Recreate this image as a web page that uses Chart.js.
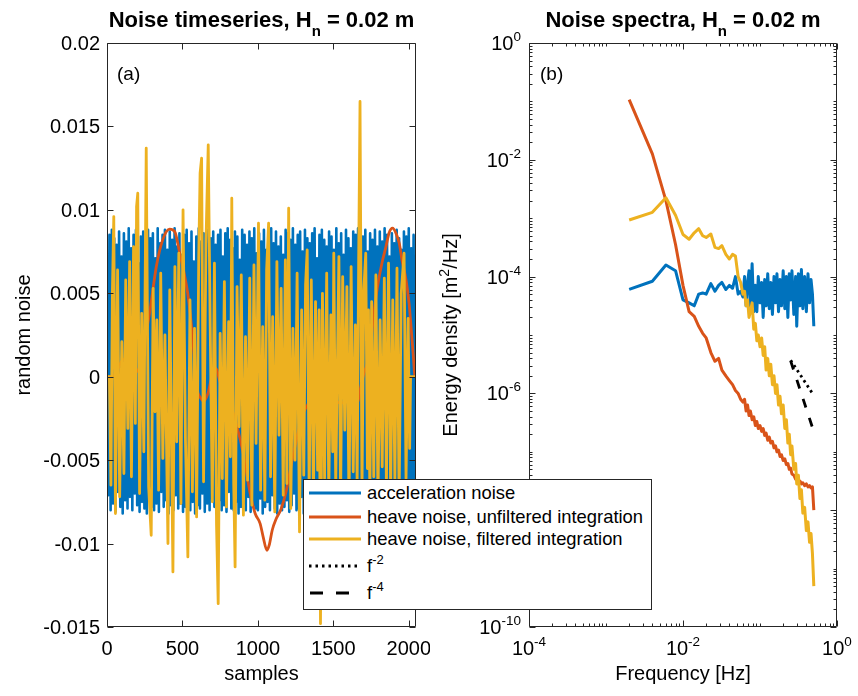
<!DOCTYPE html>
<html>
<head>
<meta charset="utf-8">
<script src="https://cdn.jsdelivr.net/npm/chart.js@4.4.1/dist/chart.umd.min.js"></script>
<style>
html,body{margin:0;padding:0;background:#fff;}
#wrap{position:relative;width:858px;height:696px;overflow:hidden;background:#fff;}
canvas{position:absolute;top:0;}
#c1{left:0;}
#c2{left:430px;}
#legend{position:absolute;left:303px;top:479px;width:347px;height:129px;background:#fff;border:1px solid #262626;font:18.4px "Liberation Sans",Arial,sans-serif;color:#000;z-index:5;}
#legend .row{position:absolute;left:0;height:24px;width:340px;}
#legend svg{position:absolute;left:5px;top:0;}
#legend span{position:absolute;left:63px;top:0;line-height:24px;white-space:nowrap;}
#legend sup{font-size:13px;position:relative;top:-8px;vertical-align:baseline;}
</style>
</head>
<body>
<div id="wrap">
<canvas id="c1" width="430" height="696"></canvas>
<canvas id="c2" width="428" height="696"></canvas>
<div id="legend">
  <div class="row" style="top:1px"><svg width="52" height="24"><line x1="0" y1="12" x2="52" y2="12" stroke="#0072BD" stroke-width="2.8"/></svg><span>acceleration noise</span></div>
  <div class="row" style="top:25px"><svg width="52" height="24"><line x1="0" y1="12" x2="52" y2="12" stroke="#D95319" stroke-width="2.8"/></svg><span>heave noise, unfiltered integration</span></div>
  <div class="row" style="top:47px"><svg width="52" height="24"><line x1="0" y1="12" x2="52" y2="12" stroke="#EDB120" stroke-width="2.8"/></svg><span>heave noise, filtered integration</span></div>
  <div class="row" style="top:74px"><svg width="52" height="24"><line x1="0" y1="12" x2="52" y2="12" stroke="#000" stroke-width="2.8" stroke-dasharray="2.5 4"/></svg><span>f<sup>-2</sup></span></div>
  <div class="row" style="top:101px"><svg width="52" height="24"><line x1="1" y1="12" x2="52" y2="12" stroke="#000" stroke-width="2.8" stroke-dasharray="13 13"/></svg><span>f<sup>-4</sup></span></div>
</div>
</div>
<script>
// ================= DATA =================
// Panel (a): time series
const tsTicksX = [0, 500, 1000, 1500, 2000];
const tsTicksY = [-0.015, -0.01, -0.005, 0, 0.005, 0.01, 0.015, 0.02];
const tsTickLabelsY = ['-0.015', '-0.01', '-0.005', '0', '0.005', '0.01', '0.015', '0.02'];

// acceleration noise, one value every 8 samples
const accelSampleStep = 8;
const accelNoise = [
0.0062,-0.0071,0.0085,-0.0080,0.0088,-0.0076,0.0083,-0.0081,0.0079,-0.0069,0.0087,-0.0078,0.0072,-0.0082,0.0086,-0.0074,
0.0081,-0.0079,0.0089,-0.0072,0.0077,-0.0080,0.0085,-0.0070,0.0088,-0.0077,0.0068,-0.0081,0.0084,-0.0075,0.0087,-0.0079,
0.0074,-0.0082,0.0088,-0.0073,0.0083,-0.0078,0.0086,-0.0080,0.0071,-0.0076,0.0089,-0.0081,0.0080,-0.0069,0.0085,-0.0078,
0.0088,-0.0074,0.0076,-0.0082,0.0087,-0.0077,0.0082,-0.0080,0.0089,-0.0071,0.0078,-0.0079,0.0086,-0.0076,0.0073,-0.0081,
0.0085,-0.0078,0.0088,-0.0072,0.0080,-0.0080,0.0087,-0.0075,0.0069,-0.0082,0.0084,-0.0077,0.0089,-0.0079,0.0081,-0.0070,
0.0086,-0.0081,0.0075,-0.0076,0.0088,-0.0080,0.0083,-0.0073,0.0087,-0.0078,0.0079,-0.0082,0.0085,-0.0074,0.0088,-0.0080,
0.0072,-0.0077,0.0086,-0.0081,0.0089,-0.0069,0.0082,-0.0079,0.0077,-0.0080,0.0087,-0.0075,0.0084,-0.0082,0.0070,-0.0078,
0.0088,-0.0076,0.0085,-0.0080,0.0079,-0.0072,0.0087,-0.0081,0.0083,-0.0077,0.0089,-0.0079,0.0074,-0.0080,0.0086,-0.0073,
0.0081,-0.0082,0.0088,-0.0078,0.0076,-0.0075,0.0085,-0.0080,0.0089,-0.0071,0.0080,-0.0079,0.0087,-0.0082,0.0078,-0.0076,
0.0084,-0.0080,0.0073,-0.0078,0.0088,-0.0074,0.0086,-0.0081,0.0082,-0.0077,0.0089,-0.0070,0.0079,-0.0080,0.0085,-0.0079,
0.0087,-0.0072,0.0075,-0.0082,0.0088,-0.0078,0.0083,-0.0076,0.0080,-0.0080,0.0086,-0.0074,0.0089,-0.0081,0.0071,-0.0077,
0.0085,-0.0079,0.0088,-0.0073,0.0082,-0.0080,0.0078,-0.0082,0.0087,-0.0076,0.0084,-0.0078,0.0076,-0.0071,0.0089,-0.0080,
0.0080,-0.0077,0.0086,-0.0081,0.0073,-0.0075,0.0088,-0.0079,0.0083,-0.0082,0.0077,-0.0074,0.0087,-0.0080,0.0085,-0.0078,
0.0089,-0.0076,0.0079,-0.0081,0.0084,-0.0072,0.0088,-0.0079,0.0075,-0.0080,0.0086,-0.0077,0.0082,-0.0082,0.0088,-0.0075,
0.0078,-0.0080,0.0087,-0.0078,0.0081,-0.0074,0.0089,-0.0081,0.0085,-0.0076,0.0072,-0.0079,0.0086,-0.0082,0.0080,-0.0077,
0.0088,-0.0073,0.0083,-0.0080,0.0076,-0.0078,0.0087,-0.0081,0.0084,-0.0075,0.0089,-0.0079,0.0077,-0.0080,0.0085,-0.0072,
0.0064];

// heave noise, unfiltered integration
const unfiltSamples = [0,35,69,95,129,162,195,222,249,282,327,369,415,449,482,509,535,569,595,622,
  642,669,695,722,749,782,822,862,902,949,982,1015,1035,1060,1075,1095,1122,1155,1189,1227,
  1255,1295,1335,1369,1389,1415,1442,1469,1502,1549,1595,1635,1662,1682,1704,1727,1749,1769,1793,1822,
  1849,1869,1893,1915,1937,1955,1982,2002,2015,2029,2042,2047];
const unfiltNoise = [0,0,0.0004,0.0009,0.0011,0.0009,0.0003,0.0008,0.0022,0.0038,
  0.0066,0.0082,0.00884,0.0087,0.0074,0.0063,0.0050,0.0022,-0.0006,-0.0013,
  -0.00146,-0.0010,0.0000,0.0005,-0.0003,-0.0009,-0.00176,-0.0030,-0.00456,-0.0070,
  -0.0082,-0.0088,-0.0096,-0.0104,-0.0101,-0.0092,-0.0085,-0.0079,-0.0068,-0.0050,
  -0.0038,-0.0023,-0.0016,-0.0008,0.0001,0.00024,-0.0004,-0.0010,-0.00146,-0.00156,
  -0.0015,-0.00156,-0.0015,-0.0006,0.00024,0.00084,0.0022,0.0038,0.0054,0.0068,
  0.0078,0.0086,0.0089,0.0086,0.0080,0.0070,0.0058,0.0044,0.0030,0.0014,0,0];

// heave noise, filtered integration
const filtSamples = [0,16,26,36,45,56,70,84,98,112,124,138,150,162,176,188,196,204,216,230,
  244,260,276,293,306,318,330,342,356,370,384,404,416,437,450,462,476,490,504,520,
  536,550,566,580,594,608,617,627,640,656,671,684,698,712,726,737,750,764,778,792,
  806,818,827,840,849,862,876,890,904,918,932,946,960,974,988,1004,1018,1032,1046,1058,
  1071,1084,1098,1112,1126,1140,1154,1168,1182,1192,1204,1218,1232,1246,1260,1276,1290,1304,1316,1327,
  1340,1354,1368,1382,1396,1406,1415,1428,1442,1456,1470,1484,1496,1503,1516,1537,1548,1562,1576,1590,
  1604,1618,1632,1646,1658,1668,1677,1690,1702,1715,1726,1733,1742,1754,1768,1782,1796,1810,1824,1838,
  1852,1866,1880,1894,1908,1922,1936,1950,1969,1982,1996,2006,2012,2047];
const filtNoise = [0,0,-0.0065,0.0052,0.0096,-0.0082,0.0064,-0.0072,0.0021,-0.0058,0.0058,-0.0031,0.0069,-0.0060,0.0078,-0.0028,0.0102,0.0110,-0.0070,0.0038,
  -0.0045,0.0137,-0.0066,-0.0095,0.0053,-0.0021,0.0034,-0.0068,0.0062,-0.0049,0.0025,-0.0100,0.0052,-0.0117,0.0066,-0.0039,0.0074,-0.0076,0.0100,-0.0038,
  -0.0108,0.0046,-0.0069,0.0029,-0.0084,0.0072,0.0122,0.0131,-0.0063,0.0081,0.0139,0.0030,-0.0075,0.0068,-0.0089,-0.0136,0.0026,-0.0061,0.0057,-0.0078,
  0.0033,-0.0048,0.0107,-0.0065,-0.0114,0.0054,-0.0030,0.0061,-0.0083,0.0024,-0.0062,0.0059,-0.0077,0.0067,-0.0040,0.0092,-0.0068,0.0030,-0.0074,0.0064,
  0.0092,-0.0060,0.0036,-0.0081,0.0069,-0.0035,0.0053,-0.0071,0.0070,-0.0064,0.0101,-0.0079,0.0029,-0.0050,0.0062,-0.0093,0.0040,-0.0059,0.0055,0.0076,
  -0.0069,0.0058,-0.0073,0.0045,-0.0056,0.0040,-0.0148,0.0050,-0.0061,0.0062,-0.0070,0.0037,-0.0045,0.0074,-0.0065,0.0072,-0.0076,0.0060,-0.0032,0.0054,
  -0.0078,0.0066,-0.0057,0.0031,-0.0064,0.0070,0.0165,-0.0068,0.0052,0.0074,-0.0055,0.0040,-0.0072,0.0045,-0.0060,0.0061,-0.0075,0.0034,-0.0054,0.0059,
  -0.0066,0.0068,-0.0070,0.0046,-0.0063,0.0065,-0.0074,0.0050,0.0074,-0.0061,0.0035,-0.0043,0,0];

// Panel (b): spectra
const freqHz = [0.002,0.004,0.006,0.008,0.010,0.012,0.014,0.016,0.018,0.020,
  0.023,0.026,0.029,0.032,0.036,0.040,0.044,0.048,0.052,0.056,
  0.060,0.063,0.066,0.069,0.072,0.075,0.079,0.083,0.087,0.091,
  0.095,0.100,0.105,0.110,0.115,0.120,0.126,0.132,0.138,0.145,
  0.152,0.159,0.166,0.174,0.182,0.190,0.200,0.210,0.220,0.230,
  0.240,0.250,0.260,0.275,0.290,0.300,0.315,0.330,0.345,0.360,
  0.380,0.400,0.420,0.440,0.460,0.480,0.500];
const specAccel = [6.03e-5,8.32e-5,1.58e-4,1.26e-4,3.98e-5,3.55e-5,3.16e-5,5.01e-5,5.25e-5,5.01e-5,
  7.59e-5,5.62e-5,7.08e-5,7.94e-5,6.03e-5,7.08e-5,6.31e-5,1.0e-4,5.01e-5,5.62e-5,
  4.47e-5,1.0e-4,3.16e-5,7.94e-5,1.26e-4,2.82e-5,1.66e-4,2.51e-5,7.08e-5,2.51e-5,
  1.0e-4,3.55e-5,7.94e-5,2.0e-5,8.91e-5,3.16e-5,1.12e-4,2.82e-5,7.94e-5,2.24e-5,
  1.0e-4,3.55e-5,1.12e-4,2.51e-5,8.91e-5,3.16e-5,1.26e-4,2.82e-5,1.0e-4,2.0e-5,
  1.12e-4,3.98e-5,1.26e-4,2.24e-5,1.0e-4,1.41e-5,1.12e-4,3.16e-5,1.32e-4,2.82e-5,
  1.0e-4,2.51e-5,1.12e-4,3.55e-5,8.91e-5,5.01e-5,1.41e-5];
const specUnfilt = [1.07e-1,1.26e-2,2.0e-3,3.55e-4,7.08e-5,2.51e-5,2.09e-5,1.41e-5,1.07e-5,8.91e-6,
  5.01e-6,3.55e-6,3.98e-6,2.51e-6,2.0e-6,1.66e-6,1.41e-6,1.12e-6,1.0e-6,7.94e-7,
  7.08e-7,7.94e-7,5.01e-7,6.31e-7,4.17e-7,5.01e-7,3.55e-7,3.98e-7,2.82e-7,3.31e-7,
  2.51e-7,2.82e-7,2.24e-7,2.51e-7,1.91e-7,2.09e-7,1.58e-7,1.78e-7,1.41e-7,1.51e-7,
  1.17e-7,1.26e-7,1.0e-7,1.07e-7,8.32e-8,8.91e-8,7.08e-8,7.59e-8,6.03e-8,6.31e-8,
  5.01e-8,5.25e-8,4.17e-8,3.98e-8,3.39e-8,3.55e-8,3.02e-8,3.16e-8,2.82e-8,2.95e-8,
  2.63e-8,2.82e-8,2.51e-8,2.63e-8,2.40e-8,2.51e-8,1.0e-8];
const specFilt = [9.33e-4,1.26e-3,2.24e-3,1.12e-3,5.25e-4,4.37e-4,5.62e-4,6.61e-4,5.01e-4,4.68e-4,
  5.37e-4,3.16e-4,3.02e-4,3.39e-4,2.40e-4,2.0e-4,2.40e-4,2.24e-4,1.0e-4,7.94e-5,
  5.01e-5,5.62e-5,3.16e-5,3.98e-5,2.0e-5,2.51e-5,3.55e-5,1.26e-5,1.58e-5,7.94e-6,
  1.0e-5,6.31e-6,8.91e-6,4.47e-6,6.31e-6,2.51e-6,3.98e-6,2.0e-6,3.16e-6,1.41e-6,
  2.0e-6,1.0e-6,1.41e-6,6.31e-7,8.91e-7,4.47e-7,6.31e-7,2.51e-7,3.55e-7,1.41e-7,
  2.0e-7,8.91e-8,1.26e-7,5.01e-8,6.31e-8,2.82e-8,3.98e-8,1.58e-8,2.24e-8,8.91e-9,
  1.12e-8,4.47e-9,6.31e-9,2.82e-9,3.98e-9,1.78e-9,5.01e-10];
const refFreq = [0.25, 0.48];
const refSlope2 = [3.7e-6, 1.0e-6];
const refSlope4 = [3.6e-6, 2.6e-7];
const specTickExpX = [-4, -2, 0];
const specTickExpY = [-10, -8, -6, -4, -2, 0];

// ================= STYLE / DRAWING =================
const FONT = '"Liberation Sans", Arial, sans-serif';
const AX = '#262626';
const C_BLUE = '#0072BD', C_RED = '#D95319', C_YEL = '#EDB120';
const TICK_FS = 20, EXP_FS = 13.5, LABEL_FS = 20;

function runs(ctx, parts, x, y, align) {
  let w = 0;
  for (const p of parts) { ctx.font = p.f; p.w = ctx.measureText(p.t).width; w += p.w; }
  let x0 = align === 'right' ? x - w : (align === 'center' ? x - w / 2 : x);
  ctx.textAlign = 'left'; ctx.textBaseline = 'alphabetic'; ctx.fillStyle = '#000';
  for (const p of parts) { ctx.font = p.f; ctx.fillText(p.t, x0, y + (p.dy || 0)); x0 += p.w; }
}
const nf = s => s + 'px ' + FONT;
const bf = s => 'bold ' + s + 'px ' + FONT;

function boxAndTicks(chart, xt, yt) {
  const ctx = chart.ctx, a = chart.chartArea, xs = chart.scales.x, ys = chart.scales.y;
  const L = Math.round(a.left) + 0.5, R = Math.round(a.right) - 0.5, T = Math.round(a.top) + 0.5, B = Math.round(a.bottom) - 0.5;
  ctx.save(); ctx.strokeStyle = AX; ctx.lineWidth = 1; ctx.beginPath();
  for (const t of xt) { const p = Math.round(xs.getPixelForValue(t.v)) + 0.5; ctx.moveTo(p, B); ctx.lineTo(p, B - t.len); ctx.moveTo(p, T); ctx.lineTo(p, T + t.len); }
  for (const t of yt) { const p = Math.round(ys.getPixelForValue(t.v)) + 0.5; ctx.moveTo(L, p); ctx.lineTo(L + t.len, p); ctx.moveTo(R, p); ctx.lineTo(R - t.len, p); }
  ctx.rect(L, T, R - L, B - T); ctx.stroke(); ctx.restore();
}

function logTicks(e0, e1, majors) {
  const out = [];
  for (let e = e0; e <= e1; e++) {
    out.push({ v: Math.pow(10, e), len: majors.includes(e) ? 6 : 3 });
    if (e < e1) for (let m = 2; m <= 9; m++) out.push({ v: m * Math.pow(10, e), len: 3 });
  }
  return out;
}

const baseOpts = (xAxis, yAxis, padRight, yWidth) => ({
  responsive: false, animation: false, events: [],
  layout: { padding: { left: 0, right: padRight, top: 43, bottom: 0 } },
  elements: { point: { radius: 0 }, line: { borderJoinStyle: 'round', borderCapStyle: 'butt' } },
  plugins: { legend: { display: false }, tooltip: { enabled: false } },
  scales: {
    x: Object.assign({ grid: { display: false }, border: { display: false }, ticks: { display: false }, afterFit(s) { s.height = 69; } }, xAxis),
    y: Object.assign({ grid: { display: false }, border: { display: false }, ticks: { display: false }, afterFit(s) { s.width = yWidth; } }, yAxis)
  }
});

// ----- Panel (a) -----
new Chart(document.getElementById('c1'), {
  type: 'line',
  data: { datasets: [
    { label: 'heave noise, filtered integration', order: 0, borderColor: C_YEL, borderWidth: 2.8, tension: 0,
      data: filtSamples.map((s, i) => ({ x: s, y: filtNoise[i] })) },
    { label: 'heave noise, unfiltered integration', order: 1, borderColor: C_RED, borderWidth: 2.8, tension: 0.4, cubicInterpolationMode: 'monotone',
      data: unfiltSamples.map((s, i) => ({ x: s, y: unfiltNoise[i] })) },
    { label: 'acceleration noise', order: 2, borderColor: C_BLUE, borderWidth: 2.6, tension: 0,
      data: accelNoise.map((v, i) => ({ x: i * accelSampleStep, y: v })) }
  ]},
  options: baseOpts({ type: 'linear', min: 0, max: 2048 }, { type: 'linear', min: -0.015, max: 0.02 }, 14, 107),
  plugins: [{
    id: 'axesA',
    afterDraw(chart) {
      const ctx = chart.ctx, xs = chart.scales.x, ys = chart.scales.y, a = chart.chartArea;
      boxAndTicks(chart, tsTicksX.map(v => ({ v, len: 6 })), tsTicksY.map(v => ({ v, len: 6 })));
      ctx.save();
      tsTicksX.forEach(v => runs(ctx, [{ t: String(v), f: nf(TICK_FS) }], xs.getPixelForValue(v), 655, 'center'));
      tsTicksY.forEach((v, i) => runs(ctx, [{ t: tsTickLabelsY[i], f: nf(TICK_FS) }], 100, ys.getPixelForValue(v) + 7, 'right'));
      runs(ctx, [{ t: 'samples', f: nf(LABEL_FS) }], (a.left + a.right) / 2, 680, 'center');
      ctx.save(); ctx.translate(30, (a.top + a.bottom) / 2); ctx.rotate(-Math.PI / 2);
      runs(ctx, [{ t: 'random noise', f: nf(LABEL_FS) }], 0, 0, 'center'); ctx.restore();
      runs(ctx, [{ t: '(a)', f: nf(19) }], 117, 80, 'left');
      runs(ctx, [{ t: 'Noise timeseries, H', f: bf(22) }, { t: 'n', f: bf(15), dy: 9 }, { t: ' = 0.02 m', f: bf(22) }], (a.left + a.right) / 2, 27, 'center');
      ctx.restore();
    }
  }]
});

// ----- Panel (b) -----
new Chart(document.getElementById('c2'), {
  type: 'line',
  data: { datasets: [
    { label: 'f^-4', order: 0, borderColor: '#000', borderWidth: 2.8, borderDash: [9, 11],
      data: refFreq.map((f, i) => ({ x: f, y: refSlope4[i] })) },
    { label: 'f^-2', order: 1, borderColor: '#000', borderWidth: 2.8, borderDash: [2.5, 3.5],
      data: refFreq.map((f, i) => ({ x: f, y: refSlope2[i] })) },
    { label: 'heave noise, filtered integration', order: 2, borderColor: C_YEL, borderWidth: 3,
      data: freqHz.map((f, i) => ({ x: f, y: specFilt[i] })) },
    { label: 'heave noise, unfiltered integration', order: 3, borderColor: C_RED, borderWidth: 3,
      data: freqHz.map((f, i) => ({ x: f, y: specUnfilt[i] })) },
    { label: 'acceleration noise', order: 4, borderColor: C_BLUE, borderWidth: 3,
      data: freqHz.map((f, i) => ({ x: f, y: specAccel[i] })) }
  ]},
  options: baseOpts({ type: 'logarithmic', min: 1e-4, max: 1 }, { type: 'logarithmic', min: 1e-10, max: 1 }, 21, 99),
  plugins: [{
    id: 'axesB',
    afterDraw(chart) {
      const ctx = chart.ctx, xs = chart.scales.x, ys = chart.scales.y, a = chart.chartArea;
      boxAndTicks(chart, logTicks(-4, 0, specTickExpX), logTicks(-10, 0, specTickExpY));
      ctx.save();
      specTickExpX.forEach(e => runs(ctx, [{ t: '10', f: nf(TICK_FS) }, { t: String(e), f: nf(EXP_FS), dy: -9 }], xs.getPixelForValue(Math.pow(10, e)), 655, 'center'));
      specTickExpY.forEach(e => runs(ctx, [{ t: '10', f: nf(TICK_FS) }, { t: String(e), f: nf(EXP_FS), dy: -9 }], a.left - 8, ys.getPixelForValue(Math.pow(10, e)) + 7, 'right'));
      runs(ctx, [{ t: 'Frequency [Hz]', f: nf(LABEL_FS) }], (a.left + a.right) / 2, 680, 'center');
      ctx.save(); ctx.translate(27, (a.top + a.bottom) / 2); ctx.rotate(-Math.PI / 2);
      runs(ctx, [{ t: 'Energy density [m', f: nf(LABEL_FS) }, { t: '2', f: nf(14), dy: -8 }, { t: '/Hz]', f: nf(LABEL_FS) }], 0, 0, 'center'); ctx.restore();
      runs(ctx, [{ t: '(b)', f: nf(19) }], a.left + 11, 80, 'left');
      runs(ctx, [{ t: 'Noise spectra, H', f: bf(22) }, { t: 'n', f: bf(15), dy: 9 }, { t: ' = 0.02 m', f: bf(22) }], (a.left + a.right) / 2, 27, 'center');
      ctx.restore();
    }
  }]
});
</script>
</body>
</html>
